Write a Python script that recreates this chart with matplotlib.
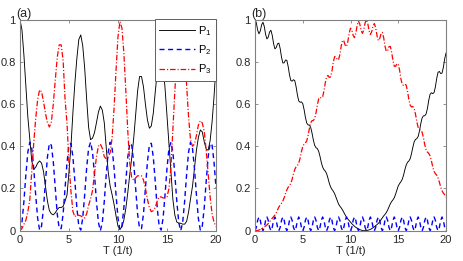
import numpy as np
import matplotlib
matplotlib.use("Agg")
import matplotlib.pyplot as plt

plt.rcParams['font.family'] = ['Liberation Sans', 'DejaVu Sans']
plt.rcParams['lines.scale_dashes'] = False
plt.rcParams['mathtext.fontset'] = 'custom'
plt.rcParams['mathtext.rm'] = 'Liberation Sans'
plt.rcParams['mathtext.it'] = 'Liberation Sans'

# ---------------- data: panel (a) ----------------
T_a = np.linspace(0, 20, 101)
P1_a = [1.000, 0.950, 0.831, 0.684, 0.538, 0.435, 0.330, 0.290, 0.300, 0.320,
        0.330, 0.320, 0.280, 0.210, 0.140, 0.095, 0.080, 0.075, 0.085, 0.100,
        0.110, 0.110, 0.115, 0.140, 0.170, 0.280, 0.400, 0.560, 0.700, 0.815,
        0.905, 0.927, 0.876, 0.770, 0.624, 0.490, 0.431, 0.438, 0.464, 0.511,
        0.561, 0.590, 0.571, 0.511, 0.394, 0.278, 0.211, 0.170, 0.124, 0.070,
        0.021, 0.007, 0.018, 0.051, 0.106, 0.181, 0.266, 0.345, 0.436, 0.548,
        0.661, 0.730, 0.730, 0.681, 0.598, 0.526, 0.485, 0.496, 0.556, 0.656,
        0.751, 0.818, 0.837, 0.786, 0.675, 0.544, 0.410, 0.281, 0.148, 0.074,
        0.041, 0.036, 0.035, 0.031, 0.031, 0.044, 0.088, 0.151, 0.210, 0.294,
        0.380, 0.441, 0.477, 0.468, 0.421, 0.386, 0.381, 0.426, 0.515, 0.636,
        0.780]
P2_a = [0.000, 0.039, 0.139, 0.266, 0.372, 0.419, 0.390, 0.296, 0.170, 0.059,
        0.003, 0.022, 0.109, 0.234, 0.349, 0.414, 0.405, 0.324, 0.202, 0.079,
        0.010, 0.010, 0.079, 0.202, 0.324, 0.405, 0.414, 0.349, 0.234, 0.109,
        0.022, 0.003, 0.059, 0.170, 0.296, 0.390, 0.419, 0.372, 0.266, 0.139,
        0.039, 0.000, 0.039, 0.139, 0.266, 0.372, 0.419, 0.390, 0.296, 0.170,
        0.059, 0.003, 0.022, 0.109, 0.234, 0.349, 0.414, 0.405, 0.324, 0.202,
        0.079, 0.010, 0.010, 0.079, 0.202, 0.324, 0.405, 0.414, 0.349, 0.234,
        0.109, 0.022, 0.003, 0.059, 0.170, 0.296, 0.390, 0.419, 0.372, 0.266,
        0.139, 0.039, 0.000, 0.039, 0.139, 0.266, 0.372, 0.419, 0.390, 0.296,
        0.170, 0.059, 0.003, 0.022, 0.109, 0.234, 0.349, 0.414, 0.405, 0.324,
        0.202]
P3_a = [0.000, 0.011, 0.030, 0.050, 0.090, 0.146, 0.280, 0.414, 0.530, 0.621,
        0.667, 0.658, 0.611, 0.556, 0.511, 0.491, 0.515, 0.601, 0.713, 0.821,
        0.880, 0.880, 0.806, 0.620, 0.506, 0.315, 0.186, 0.091, 0.066, 0.076,
        0.073, 0.070, 0.065, 0.060, 0.080, 0.120, 0.150, 0.190, 0.270, 0.350,
        0.400, 0.410, 0.390, 0.350, 0.340, 0.350, 0.370, 0.440, 0.580, 0.760,
        0.920, 0.990, 0.960, 0.840, 0.660, 0.470, 0.320, 0.250, 0.240, 0.250,
        0.260, 0.260, 0.260, 0.240, 0.200, 0.150, 0.110, 0.090, 0.095, 0.110,
        0.140, 0.160, 0.160, 0.155, 0.155, 0.160, 0.200, 0.300, 0.480, 0.660,
        0.820, 0.925, 0.965, 0.930, 0.830, 0.690, 0.540, 0.430, 0.400, 0.410,
        0.450, 0.500, 0.520, 0.510, 0.470, 0.380, 0.270, 0.160, 0.080, 0.040,
        0.020]

# ---------------- data: panel (b) ----------------
T_b = np.linspace(0, 20, 145)
P1_b = [1.000, 0.984, 0.950, 0.932, 0.946, 0.975,
        0.987, 0.967, 0.929, 0.908, 0.917, 0.941,
        0.949, 0.925, 0.886, 0.861, 0.867, 0.885,
        0.888, 0.862, 0.821, 0.794, 0.795, 0.808,
        0.807, 0.778, 0.738, 0.711, 0.708, 0.715,
        0.710, 0.681, 0.642, 0.614, 0.608, 0.610,
        0.602, 0.574, 0.537, 0.510, 0.501, 0.500,
        0.489, 0.462, 0.429, 0.404, 0.393, 0.389,
        0.376, 0.352, 0.323, 0.301, 0.289, 0.282,
        0.270, 0.249, 0.225, 0.207, 0.196, 0.187,
        0.176, 0.159, 0.141, 0.126, 0.116, 0.108,
        0.098, 0.086, 0.073, 0.063, 0.055, 0.048,
        0.041, 0.033, 0.027, 0.021, 0.016, 0.012,
        0.008, 0.005, 0.003, 0.001, 0.000, 0.000,
        0.001, 0.002, 0.004, 0.006, 0.010, 0.014,
        0.019, 0.024, 0.029, 0.035, 0.042, 0.052,
        0.061, 0.070, 0.077, 0.086, 0.098, 0.113,
        0.127, 0.138, 0.146, 0.156, 0.173, 0.193,
        0.212, 0.223, 0.232, 0.243, 0.263, 0.289,
        0.311, 0.324, 0.330, 0.341, 0.365, 0.395,
        0.421, 0.432, 0.436, 0.446, 0.472, 0.507,
        0.534, 0.544, 0.544, 0.553, 0.579, 0.618,
        0.646, 0.653, 0.649, 0.654, 0.681, 0.721,
        0.750, 0.754, 0.744, 0.746, 0.773, 0.814,
        0.841]
P2_b = [0.000, 0.016, 0.049, 0.065, 0.049, 0.016,
        0.000, 0.016, 0.049, 0.065, 0.049, 0.016,
        0.000, 0.016, 0.049, 0.065, 0.049, 0.016,
        0.000, 0.016, 0.049, 0.065, 0.049, 0.016,
        0.000, 0.016, 0.049, 0.065, 0.049, 0.016,
        0.000, 0.016, 0.049, 0.065, 0.049, 0.016,
        0.000, 0.016, 0.049, 0.065, 0.049, 0.016,
        0.000, 0.016, 0.049, 0.065, 0.049, 0.016,
        0.000, 0.016, 0.049, 0.065, 0.049, 0.016,
        0.000, 0.016, 0.049, 0.065, 0.049, 0.016,
        0.000, 0.016, 0.049, 0.065, 0.049, 0.016,
        0.000, 0.016, 0.049, 0.065, 0.049, 0.016,
        0.000, 0.016, 0.049, 0.065, 0.049, 0.016,
        0.000, 0.016, 0.049, 0.065, 0.049, 0.016,
        0.000, 0.016, 0.049, 0.065, 0.049, 0.016,
        0.000, 0.016, 0.049, 0.065, 0.049, 0.016,
        0.000, 0.016, 0.049, 0.065, 0.049, 0.016,
        0.000, 0.016, 0.049, 0.065, 0.049, 0.016,
        0.000, 0.016, 0.049, 0.065, 0.049, 0.016,
        0.000, 0.016, 0.049, 0.065, 0.049, 0.016,
        0.000, 0.016, 0.049, 0.065, 0.049, 0.016,
        0.000, 0.016, 0.049, 0.065, 0.049, 0.016,
        0.000, 0.016, 0.049, 0.065, 0.049, 0.016,
        0.000, 0.016, 0.049, 0.065, 0.049, 0.016,
        0.000]
P3_b = [0.000, 0.000, 0.001, 0.003, 0.006, 0.009,
        0.013, 0.017, 0.022, 0.027, 0.034, 0.042,
        0.051, 0.059, 0.066, 0.074, 0.085, 0.098,
        0.112, 0.122, 0.130, 0.141, 0.156, 0.176,
        0.193, 0.206, 0.213, 0.224, 0.244, 0.269,
        0.290, 0.303, 0.309, 0.321, 0.343, 0.374,
        0.398, 0.410, 0.415, 0.425, 0.450, 0.484,
        0.511, 0.521, 0.522, 0.531, 0.558, 0.595,
        0.624, 0.632, 0.628, 0.634, 0.662, 0.701,
        0.730, 0.735, 0.726, 0.728, 0.755, 0.797,
        0.824, 0.824, 0.810, 0.809, 0.835, 0.875,
        0.902, 0.898, 0.878, 0.872, 0.896, 0.935,
        0.959, 0.950, 0.925, 0.914, 0.935, 0.972,
        0.992, 0.979, 0.948, 0.934, 0.951, 0.984,
        0.999, 0.982, 0.947, 0.929, 0.942, 0.970,
        0.981, 0.960, 0.923, 0.900, 0.909, 0.932,
        0.939, 0.914, 0.874, 0.849, 0.853, 0.871,
        0.873, 0.846, 0.806, 0.779, 0.778, 0.791,
        0.788, 0.760, 0.719, 0.692, 0.688, 0.694,
        0.689, 0.660, 0.621, 0.594, 0.586, 0.588,
        0.579, 0.552, 0.516, 0.489, 0.479, 0.477,
        0.466, 0.440, 0.407, 0.382, 0.372, 0.366,
        0.354, 0.331, 0.302, 0.281, 0.270, 0.263,
        0.250, 0.230, 0.207, 0.189, 0.178, 0.170,
        0.159]

x_ticks = [0, 5, 10, 15, 20]
y_ticks = [0, 0.2, 0.4, 0.6, 0.8, 1]
y_tick_labels = ['0', '0.2', '0.4', '0.6', '0.8', '1']
x_label = 'T (1/t)'
legend_labels = ['P$_1$', 'P$_2$', 'P$_3$']
panel_labels = ['(a)', '(b)']

# ---------------- figure ----------------
W, H = 463, 261
fig = plt.figure(figsize=(W / 100, H / 100), dpi=100)
bottom = 1 - 230.7 / H
height = (230.7 - 19.5) / H
ax1 = fig.add_axes([20 / W, bottom, 196 / W, height])
ax2 = fig.add_axes([255 / W, bottom, 191 / W, height])

axis_col = '#808080'
text_col = '#262626'
style1 = dict(color='black', lw=0.65, ls='-')
style2 = dict(color='#0000ff', lw=1.0, dashes=(3.6, 2.6))
style3 = dict(color='#ff0000', lw=0.9, dashes=(4.0, 1.4, 0.8, 1.4))

for ax, T, P1, P2, P3, lab in [(ax1, T_a, P1_a, P2_a, P3_a, panel_labels[0]),
                               (ax2, T_b, P1_b, P2_b, P3_b, panel_labels[1])]:
    l1, = ax.plot(T, P1, **style1)
    l2, = ax.plot(T, P2, **style2)
    l3, = ax.plot(T, P3, **style3)
    ax.set_xlim(0, 20)
    ax.set_ylim(0, 1)
    ax.set_xticks(x_ticks)
    ax.set_xticklabels([str(v) for v in x_ticks])
    ax.set_yticks(y_ticks)
    ax.set_yticklabels(y_tick_labels)
    ax.tick_params(direction='in', top=True, right=True, length=2.5, width=0.6,
                   labelsize=8, pad=3, colors=axis_col, labelcolor=text_col)
    for s in ax.spines.values():
        s.set_linewidth(0.8)
        s.set_color(axis_col)
    ax.set_xlabel(x_label, fontsize=8, labelpad=1, color=text_col)
    ax.text(-0.018, 1.0, lab, transform=ax.transAxes, ha='left', va='bottom',
            fontsize=9, color=text_col)
    if ax is ax1:
        leg = ax.legend([l1, l2, l3], legend_labels, loc='upper right',
                        borderaxespad=0, fontsize=8, handlelength=3.2,
                        handletextpad=0.3, labelspacing=0.5, borderpad=0.4,
                        fancybox=False, framealpha=1, edgecolor='#606060')
        leg.get_frame().set_linewidth(0.7)

fig.savefig('out.png', dpi=100)
